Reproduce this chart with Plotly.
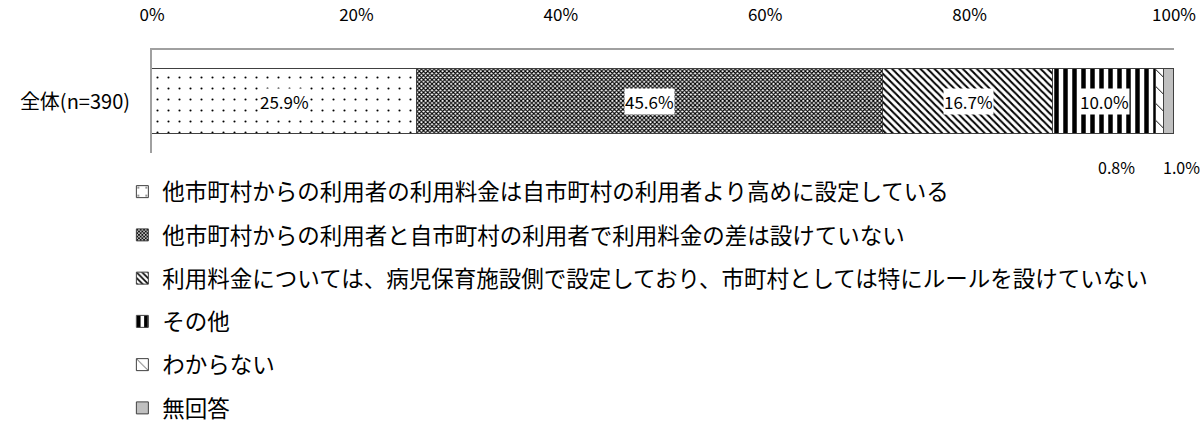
import plotly.graph_objects as go

categories = ["全体(n=390)"]
series_names = [
    "他市町村からの利用者の利用料金は自市町村の利用者より高めに設定している",
    "他市町村からの利用者と自市町村の利用者で利用料金の差は設けていない",
    "利用料金については、病児保育施設側で設定しており、市町村としては特にルールを設けていない",
    "その他",
    "わからない",
    "無回答",
]
values = [25.9, 45.6, 16.7, 10.0, 0.8, 1.0]
tick_vals = [0, 20, 40, 60, 80, 100]
tick_text = ["0%", "20%", "40%", "60%", "80%", "100%"]

patterns = [
    dict(shape=".", size=11, solidity=0.03, fgcolor="black", bgcolor="white", fgopacity=1),
    dict(shape="x", size=3, solidity=0.6, fgcolor="black", bgcolor="white", fgopacity=1),
    dict(shape="\\", size=5, solidity=0.4, fgcolor="black", bgcolor="white", fgopacity=1),
    dict(shape="|", size=9, solidity=0.5, fgcolor="black", bgcolor="white", fgopacity=1),
    dict(shape="\\", size=12, solidity=0.08, fgcolor="black", bgcolor="white", fgopacity=1),
    dict(shape="", fgcolor="black", bgcolor="#c0c0c0"),
]
fills = ["white", "white", "white", "white", "white", "#c0c0c0"]

FONT = "Noto Sans CJK JP"

fig = go.Figure()
for i, (name, v) in enumerate(zip(series_names, values)):
    fig.add_trace(go.Bar(
        y=categories, x=[v], name=name, orientation="h",
        marker=dict(color=fills[i], pattern=patterns[i],
                    line=dict(color="#404040", width=1)),
        width=0.63, legendgroup=f"g{i}", hoverinfo="x+name",
    ))

# value labels
cum = 0
annotations = []
for i, v in enumerate(values):
    center = cum + v / 2
    cum += v
    if v >= 5:
        annotations.append(dict(
            x=center, y=categories[0], xref="x", yref="y",
            text=f"{v:.1f}%", showarrow=False, bgcolor="white",
            font=dict(family=FONT, size=17, color="black"), borderpad=0,
        ))
    else:
        shift = -43 if i == 4 else 13
        annotations.append(dict(
            x=center, y=-0.5, xref="x", yref="y",
            text=f"{v:.1f}%", showarrow=False, yanchor="top", yshift=0,
            xshift=shift, font=dict(family=FONT, size=16, color="black"),
        ))

fig.update_layout(
    width=1203, height=439,
    margin=dict(l=152, r=29, t=50, b=286, autoexpand=False),
    paper_bgcolor="white", plot_bgcolor="white",
    barmode="stack", bargap=0,
    font=dict(family=FONT, size=16, color="black"),
    xaxis=dict(range=[0, 100], side="top", tickvals=tick_vals, ticktext=tick_text,
               showgrid=False, zeroline=False, showline=True, linecolor="#a0a0a0",
               linewidth=2, ticks="", ticklabelstandoff=20, automargin=False,
               tickfont=dict(family=FONT, size=17)),
    yaxis=dict(range=[-0.5, 0.5], showgrid=False, zeroline=False, showline=True,
               linecolor="#a0a0a0", linewidth=2, ticks="", ticklabelstandoff=16,
               automargin=False, tickfont=dict(family=FONT, size=20)),
    legend=dict(orientation="v", x=-0.029, xanchor="left", y=-0.17, yanchor="top",
                traceorder="grouped", tracegroupgap=11, itemwidth=30, maxheight=300,
                font=dict(family=FONT, size=22.5), bgcolor="rgba(0,0,0,0)"),
    annotations=annotations,
    showlegend=True,
)

fig.write_html("out.html", config={"displayModeBar": False},
               post_script="document.body.style.margin='0';document.body.style.overflow='hidden';")
